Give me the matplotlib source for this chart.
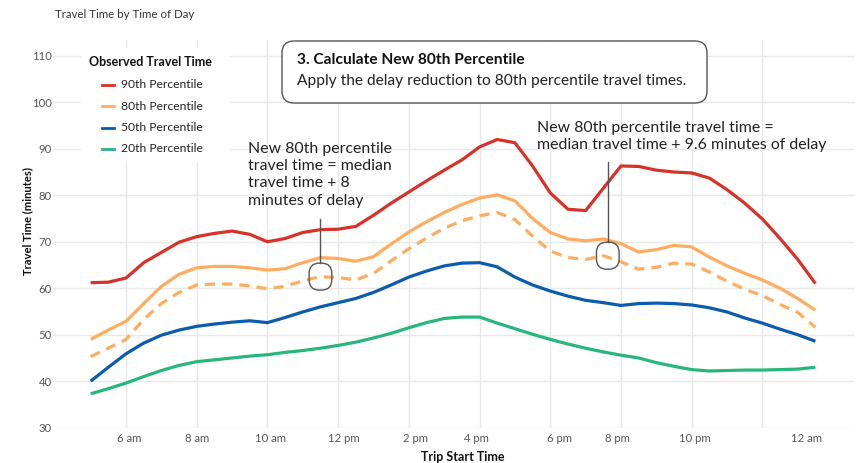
import matplotlib
matplotlib.use("Agg")
import matplotlib.pyplot as plt
from matplotlib.patches import FancyBboxPatch, Rectangle
from matplotlib.lines import Line2D

plt.rcParams['font.family'] = ['Lato', 'DejaVu Sans']

# ---- data ----
hours = [5.0, 5.5, 6.0, 6.5, 7.0, 7.5, 8.0, 8.5, 9.0, 9.5, 10.0, 10.5, 11.0, 11.5,
         12.0, 12.5, 13.0, 13.5, 14.0, 14.5, 15.0, 15.5, 16.0, 16.5, 17.0, 17.5,
         18.0, 18.5, 19.0, 19.5, 20.0, 20.5, 21.0, 21.5, 22.0, 22.5, 23.0, 23.5,
         24.0, 24.5, 25.0, 25.5]
p90 = [61.2, 61.3, 62.2, 65.5, 67.7, 69.9, 71.1, 71.8, 72.3, 71.6, 70.0, 70.7, 72.0, 72.6,
       72.7, 73.3, 75.7, 78.3, 80.7, 83.1, 85.4, 87.6, 90.4, 92.0, 91.3, 86.3,
       80.5, 77.0, 76.7, 81.5, 86.3, 86.2, 85.4, 85.0, 84.8, 83.7, 81.2, 78.3,
       74.9, 70.7, 66.2, 61.0]
p80 = [49.0, 51.0, 52.9, 56.7, 60.4, 63.0, 64.4, 64.7, 64.7, 64.4, 63.9, 64.2, 65.5, 66.6,
       66.4, 65.8, 66.8, 69.5, 72.1, 74.3, 76.3, 78.0, 79.4, 80.1, 78.8, 75.0,
       72.0, 70.6, 70.2, 70.6, 69.6, 67.8, 68.3, 69.2, 68.9, 66.7, 64.8, 63.2,
       61.8, 60.0, 57.8, 55.3]
p80_new = [45.3, 47.1, 49.0, 53.3, 56.7, 59.1, 60.7, 60.9, 60.9, 60.5, 59.9, 60.4, 61.6, 62.5,
           62.3, 61.8, 63.2, 65.9, 68.5, 70.8, 72.9, 74.5, 75.6, 76.3, 74.8, 71.2,
           68.0, 66.6, 66.2, 67.0, 65.7, 64.1, 64.5, 65.4, 65.2, 63.5, 61.5, 59.8,
           58.4, 56.5, 54.8, 51.6]
p50 = [40.0, 43.0, 45.9, 48.2, 49.9, 51.0, 51.8, 52.3, 52.7, 53.0, 52.6, 53.7, 54.9, 56.0,
       56.9, 57.8, 59.1, 60.7, 62.4, 63.7, 64.8, 65.4, 65.5, 64.6, 62.4, 60.7,
       59.4, 58.3, 57.4, 56.9, 56.3, 56.7, 56.8, 56.7, 56.4, 55.8, 54.9, 53.6,
       52.5, 51.2, 50.0, 48.6]
p20 = [37.3, 38.4, 39.6, 41.0, 42.3, 43.4, 44.2, 44.6, 45.0, 45.4, 45.7, 46.2, 46.6, 47.1,
       47.7, 48.4, 49.3, 50.3, 51.5, 52.6, 53.5, 53.8, 53.8, 52.5, 51.3, 50.1,
       49.0, 48.0, 47.1, 46.3, 45.6, 45.0, 44.0, 43.2, 42.5, 42.2, 42.3, 42.4,
       42.4, 42.5, 42.6, 43.0]

grid_hours = [6, 8, 10, 12, 14, 16, 18, 20, 22, 24]
tick_hours = [6.1, 8.0, 10.1, 12.15, 14.2, 15.9, 18.25, 19.9, 22.1, 25.25]
tick_labels = ['6 am', '8 am', '10 am', '12 pm', '2 pm', '4 pm', '6 pm', '8 pm', '10 pm', '12 am']
y_ticks = [30, 40, 50, 60, 70, 80, 90, 100, 110]

series_labels = ['90th Percentile', '80th Percentile', '50th Percentile', '20th Percentile']
RED, ORANGE, BLUE, GREEN = '#d83128', '#ffac5f', '#0b5cad', '#27b67b'

W, H = 865, 463
fig = plt.figure(figsize=(W / 100, H / 100), dpi=100)
def fx(px): return px / W
def fy(py): return 1 - py / H

ax = fig.add_axes([fx(53), fy(427.7), fx(855) - fx(53), fy(40) - fy(427.7)])
ax.set_xlim(3.935, 26.62)
ax.set_ylim(30, 113.4)
for s in ax.spines.values():
    s.set_visible(False)

ax.xaxis.remove_overlapping_locs = False
ax.set_yticks(y_ticks)
ax.set_xticks(tick_hours)
ax.set_xticklabels(tick_labels)
ax.set_xticks(grid_hours, minor=True)
ax.tick_params(which='both', length=0)
ax.tick_params(axis='y', labelsize=8.2, colors='#555555', pad=1)
ax.tick_params(axis='x', labelsize=8.2, colors='#555555', pad=4)
ax.grid(axis='y', which='major', color='#e8e8e8', lw=1)
ax.grid(axis='x', which='minor', color='#e8e8e8', lw=1)
ax.set_axisbelow(True)

lw = 2.3
ax.plot(hours, p90, color=RED, lw=lw, solid_capstyle='butt', zorder=3)
ax.plot(hours, p80, color=ORANGE, lw=lw, solid_capstyle='butt', zorder=3)
ax.plot(hours, p80_new, color=ORANGE, lw=lw, ls=(0, (3.2, 2.2)), zorder=3)
ax.plot(hours, p50, color=BLUE, lw=lw, solid_capstyle='butt', zorder=3)
ax.plot(hours, p20, color=GREEN, lw=lw, solid_capstyle='butt', zorder=3)

# labels
fig.text(fx(55), fy(15), 'Travel Time by Time of Day', fontsize=8.3, color='#333333',
         ha='left', va='center')
fig.text(fx(27.5), fy(221), 'Travel Time (minutes)', fontsize=8.1, fontweight='bold',
         rotation=90, ha='center', va='center', color='#111111')
fig.text(fx(463), fy(457), 'Trip Start Time', fontsize=9, fontweight='bold',
         ha='center', va='center', color='#111111')

# legend (manual)
fig.patches.append(Rectangle((fx(81), fy(162)), fx(230) - fx(81), fy(48) - fy(162),
                             transform=fig.transFigure, facecolor='white', edgecolor='none', zorder=2))
fig.text(fx(89), fy(62), 'Observed Travel Time', fontsize=9, fontweight='bold',
         ha='left', va='center', color='#111111', zorder=4)
for i, (lab, col) in enumerate(zip(series_labels, [RED, ORANGE, BLUE, GREEN])):
    yy = 85 + i * 21.3
    fig.lines.append(Line2D([fx(102), fx(114)], [fy(yy), fy(yy)], transform=fig.transFigure,
                            color=col, lw=2, zorder=4))
    fig.text(fx(121), fy(yy), lab, fontsize=8.7, ha='left', va='center', color='#222222', zorder=4)

# step box
fig.patches.append(FancyBboxPatch((fx(282), fy(103)), fx(707) - fx(282), fy(41) - fy(103),
                                  boxstyle='round,pad=0,rounding_size=0.014',
                                  transform=fig.transFigure, facecolor='white',
                                  edgecolor='#555555', lw=1, zorder=4, mutation_aspect=W / H))
fig.text(fx(297), fy(60.5), '3. Calculate New 80th Percentile', fontsize=11.2, fontweight='bold',
         ha='left', va='center', color='#111111', zorder=5)
fig.text(fx(297), fy(80.5), 'Apply the delay reduction to 80th percentile travel times.',
         fontsize=11.2, ha='left', va='center', color='#222222', zorder=5)

# annotations
fig.text(fx(248), fy(142), 'New 80th percentile\ntravel time = median\ntravel time + 8\nminutes of delay',
         fontsize=11.4, ha='left', va='top', color='#222222', linespacing=1.29)
fig.text(fx(537), fy(121), 'New 80th percentile travel time =\nmedian travel time + 9.6 minutes of delay',
         fontsize=11.4, ha='left', va='top', color='#222222', linespacing=1.29)

fig.canvas.draw()
def mark(hour, val, dx, top_px):
    px, py = ax.transData.transform((hour, val))
    cx = px + dx
    cy = H - py
    w, h = 22.7, 27
    fig.patches.append(FancyBboxPatch((fx(cx - w / 2), fy(cy + h / 2)), w / W, h / H,
                                      boxstyle='round,pad=0,rounding_size=0.012',
                                      mutation_aspect=W / H,
                                      transform=fig.transFigure, facecolor='none',
                                      edgecolor='#555555', lw=1, zorder=5))
    fig.lines.append(Line2D([fx(cx), fx(cx)], [fy(top_px), fy(cy - h / 2)],
                            transform=fig.transFigure, color='#555555', lw=1, zorder=5))

i1 = hours.index(11.5)
i2 = hours.index(19.5)
mark(hours[i1], p80_new[i1], 0, 219)
mark(hours[i2], p80_new[i2], 4.5, 162)

fig.savefig('out.png', dpi=100)
